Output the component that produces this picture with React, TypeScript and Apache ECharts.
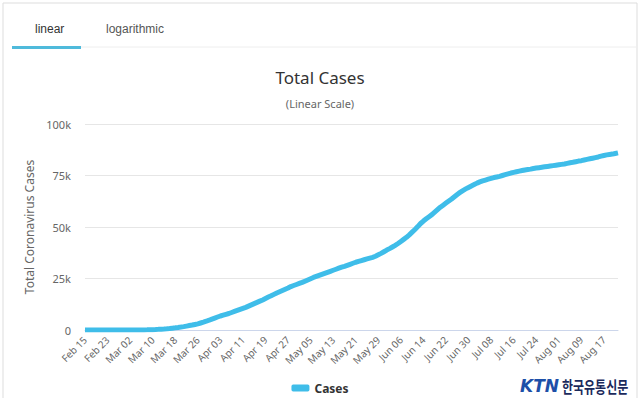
import React, { useEffect, useRef } from "react";
import * as echarts from "echarts";

const startDate = "2020-02-15";
const seriesName = "Cases";
const yTicks = [0, 25000, 50000, 75000, 100000];
const febCases = [0, 0, 0, 0, 0, 0, 0, 0, 0, 0, 1, 1, 1, 2, 3];
const marCases = [5, 8, 12, 18, 25, 40, 60, 90, 130, 180, 240, 310, 400, 500, 620, 750, 900, 1050, 1230, 1420, 1650, 1900, 2150, 2400, 2700, 3000, 3400, 3800, 4250, 4750, 5300];
const aprCases = [5800, 6300, 6800, 7200, 7600, 8000, 8500, 9000, 9500, 10000, 10500, 11000, 11600, 12200, 12800, 13400, 14000, 14600, 15300, 16000, 16600, 17300, 18000, 18600, 19200, 19800, 20400, 21100, 21600, 22100];
const mayCases = [22600, 23100, 23700, 24300, 24900, 25500, 26000, 26500, 27000, 27500, 28000, 28500, 29000, 29500, 30000, 30500, 30900, 31400, 31900, 32400, 32900, 33300, 33700, 34100, 34500, 34900, 35300, 35800, 36500, 37200, 38000];
const junCases = [38800, 39500, 40300, 41100, 42000, 43000, 44000, 45000, 46200, 47500, 48800, 50200, 51700, 52900, 54000, 55000, 56000, 57200, 58400, 59600, 60600, 61600, 62600, 63600, 64700, 65800, 66800, 67700, 68500, 69200];
const julCases = [69900, 70600, 71300, 71900, 72400, 72800, 73200, 73600, 74000, 74300, 74600, 75000, 75400, 75800, 76200, 76500, 76800, 77100, 77400, 77700, 77900, 78100, 78400, 78600, 78800, 79000, 79200, 79400, 79600, 79800, 80000];
const augCases = [80200, 80400, 80600, 80900, 81200, 81400, 81700, 82000, 82200, 82500, 82800, 83100, 83400, 83700, 84000, 84400, 84700, 85000, 85200, 85400, 85700, 86000];

const cases = [...febCases, ...marCases, ...aprCases, ...mayCases, ...junCases, ...julCases, ...augCases];
const MONTHS = ["Jan", "Feb", "Mar", "Apr", "May", "Jun", "Jul", "Aug", "Sep", "Oct", "Nov", "Dec"];
const dates = cases.map((_, i) => {
  const d = new Date(startDate + "T00:00:00Z");
  d.setUTCDate(d.getUTCDate() + i);
  return MONTHS[d.getUTCMonth()] + " " + String(d.getUTCDate()).padStart(2, "0");
});

const FONT = "'Noto Sans', 'DejaVu Sans', sans-serif";

export default function App() {
  const ref = useRef<HTMLDivElement>(null);
  useEffect(() => {
    document.body.style.margin = "0";
    const chart = echarts.init(ref.current!, null, { renderer: "svg" });
    chart.setOption({
      animation: false,
      backgroundColor: "#fff",
      title: {
        text: "Total Cases",
        subtext: "(Linear Scale)",
        left: "center",
        top: 64,
        itemGap: 12,
        textStyle: { fontFamily: FONT, fontSize: 17, fontWeight: "normal", color: "#333" },
        subtextStyle: { fontFamily: FONT, fontSize: 11, color: "#666" },
      },
      graphic: [
        { type: "rect", shape: { x: 3, y: 3, width: 634, height: 420 }, style: { fill: "none", stroke: "#dddddd", lineWidth: 1 }, silent: true },
        { type: "line", shape: { x1: 81, y1: 47, x2: 637, y2: 47 }, style: { stroke: "#eeeeee", lineWidth: 1 } },
        { type: "rect", shape: { x: 12, y: 46, width: 69, height: 3 }, style: { fill: "#4fbadb" } },
        { type: "text", x: 35, y: 29, style: { text: "linear", fontFamily: "'Liberation Sans', Arial, sans-serif", fontSize: 12, fill: "#333", verticalAlign: "middle" } },
        { type: "text", x: 106, y: 29, style: { text: "logarithmic", fontFamily: "'Liberation Sans', Arial, sans-serif", fontSize: 12, fill: "#555", verticalAlign: "middle" } },
        { type: "text", x: 520, y: 386, style: { text: "KTN", fontFamily: "'DejaVu Sans', sans-serif", fontSize: 17, fontWeight: "bold", fontStyle: "italic", fill: "#1d4fa8", verticalAlign: "middle" } },
        { type: "text", x: 562, y: 386, scaleY: 1.3, style: { text: "한국유통신문", fontFamily: "'Noto Sans CJK KR', sans-serif", fontSize: 12, fontWeight: "bold", fill: "#1b2a5c", verticalAlign: "middle" } },
      ],
      legend: {
        data: [seriesName],
        bottom: -1,
        left: "center",
        icon: "roundRect",
        itemWidth: 18,
        itemHeight: 7,
        textStyle: { fontFamily: FONT, fontSize: 12, fontWeight: "bold", color: "#333" },
      },
      grid: { left: 85, right: 22, top: 124, bottom: 68 },
      xAxis: {
        type: "category",
        data: dates,
        boundaryGap: false,
        axisLine: { lineStyle: { color: "#ccd6eb" } },
        axisTick: { show: false },
        axisLabel: { interval: 7, rotate: 45, fontFamily: FONT, fontSize: 10, color: "#666", margin: 8 },
      },
      yAxis: {
        type: "value",
        min: yTicks[0],
        max: yTicks[yTicks.length - 1],
        interval: yTicks[1] - yTicks[0],
        name: "Total Coronavirus Cases",
        nameLocation: "middle",
        nameGap: 43,
        nameTextStyle: { fontFamily: FONT, fontSize: 12, color: "#666" },
        splitLine: { lineStyle: { color: "#e6e6e6" } },
        axisLabel: {
          fontFamily: FONT,
          fontSize: 11,
          color: "#666",
          margin: 14,
          formatter: (v: number) => (v === 0 ? "0" : v / 1000 + "k"),
        },
      },
      series: [
        {
          name: seriesName,
          type: "line",
          data: cases,
          showSymbol: false,
          smooth: false,
          lineStyle: { color: "#3fbde9", width: 5 },
          itemStyle: { color: "#3fbde9" },
        },
      ],
    });
    return () => chart.dispose();
  }, []);
  return <div ref={ref} style={{ width: 640, height: 398, position: "fixed", left: 0, top: 0 }} />;
}
